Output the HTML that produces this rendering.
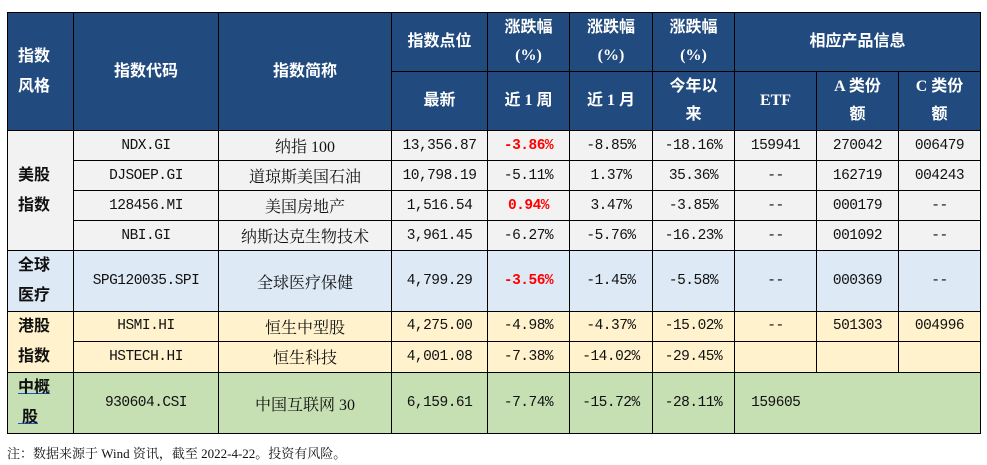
<!DOCTYPE html>
<html><head><meta charset="utf-8"><style>
body{margin:0;background:#fff;width:987px;height:465px;position:relative;overflow:hidden;font-family:"Liberation Serif","Noto Serif CJK SC",serif;}
table{position:absolute;left:7px;top:12px;border-collapse:collapse;table-layout:fixed;}
td{border:1.3px solid #000;text-align:center;padding:0;font-size:14.5px;color:#111;white-space:nowrap;overflow:hidden;font-family:"Liberation Mono","Noto Serif CJK SC",monospace;letter-spacing:-0.5px;}
td.n{font-family:"Liberation Serif","Noto Serif CJK SC",serif;font-size:16px;letter-spacing:0}
.h td{background:#214a7e;color:#fff;font-weight:bold;font-size:16px;line-height:28px;font-family:"Liberation Serif","Noto Sans CJK SC",serif;letter-spacing:0}
.g td{background:#f2f2f2}
.b td{background:#dde9f5}
.y td{background:#fff2cc}
.gr td{background:#c6dfb3}
td.cat{font-weight:bold;font-size:16px;line-height:30px;text-align:left;padding-left:10px;font-family:"Liberation Serif","Noto Sans CJK SC",serif;letter-spacing:0}
.r{color:#f00;font-weight:bold}
.note{position:absolute;left:7px;top:443px;font-size:13px;color:#111;}
</style></head><body>
<table>
<colgroup><col style="width:66px"><col style="width:145px"><col style="width:173px"><col style="width:96px"><col style="width:82px"><col style="width:83px"><col style="width:82px"><col style="width:82px"><col style="width:82px"><col style="width:82px"></colgroup>
<tr class="h" style="height:59px"><td rowspan="2" class="cat" style="line-height:30px">指数<br>风格</td><td rowspan="2">指数代码</td><td rowspan="2">指数简称</td><td>指数点位</td><td>涨跌幅<br>(%)</td><td>涨跌幅<br>(%)</td><td>涨跌幅<br>(%)</td><td colspan="3">相应产品信息</td></tr>
<tr class="h" style="height:59px"><td>最新</td><td>近 1 周</td><td>近 1 月</td><td>今年以<br>来</td><td>ETF</td><td>A 类份<br>额</td><td>C 类份<br>额</td></tr>
<tr class="g" style="height:30px"><td rowspan="4" class="cat">美股<br>指数</td><td>NDX.GI</td><td class="n">纳指 100</td><td>13,356.87</td><td class="r">-3.86%</td><td>-8.85%</td><td>-18.16%</td><td>159941</td><td>270042</td><td>006479</td></tr>
<tr class="g" style="height:30px"><td>DJSOEP.GI</td><td class="n">道琼斯美国石油</td><td>10,798.19</td><td>-5.11%</td><td>1.37%</td><td>35.36%</td><td>--</td><td>162719</td><td>004243</td></tr>
<tr class="g" style="height:30px"><td>128456.MI</td><td class="n">美国房地产</td><td>1,516.54</td><td class="r">0.94%</td><td>3.47%</td><td>-3.85%</td><td>--</td><td>000179</td><td>--</td></tr>
<tr class="g" style="height:30px"><td>NBI.GI</td><td class="n">纳斯达克生物技术</td><td>3,961.45</td><td>-6.27%</td><td>-5.76%</td><td>-16.23%</td><td>--</td><td>001092</td><td>--</td></tr>
<tr class="b" style="height:60px"><td class="cat">全球<br>医疗</td><td>SPG120035.SPI</td><td class="n">全球医疗保健</td><td>4,799.29</td><td class="r">-3.56%</td><td>-1.45%</td><td>-5.58%</td><td>--</td><td>000369</td><td>--</td></tr>
<tr class="y" style="height:29px"><td rowspan="2" class="cat">港股<br>指数</td><td>HSMI.HI</td><td class="n">恒生中型股</td><td>4,275.00</td><td>-4.98%</td><td>-4.37%</td><td>-15.02%</td><td>--</td><td>501303</td><td>004996</td></tr>
<tr class="y" style="height:30px"><td>HSTECH.HI</td><td class="n">恒生科技</td><td>4,001.08</td><td>-7.38%</td><td>-14.02%</td><td>-29.45%</td><td></td><td></td><td></td></tr>
<tr class="gr" style="height:59px"><td class="cat" style="text-decoration:underline;text-decoration-color:#2255cc">中概<br>&nbsp;股</td><td>930604.CSI</td><td class="n">中国互联网 30</td><td>6,159.61</td><td>-7.74%</td><td>-15.72%</td><td>-28.11%</td><td style="border-right:none">159605</td><td style="border-left:none;border-right:none"></td><td style="border-left:none"></td></tr>
</table>
<div class="note">注：数据来源于 Wind 资讯，截至 2022-4-22。投资有风险。</div>
</body></html>
